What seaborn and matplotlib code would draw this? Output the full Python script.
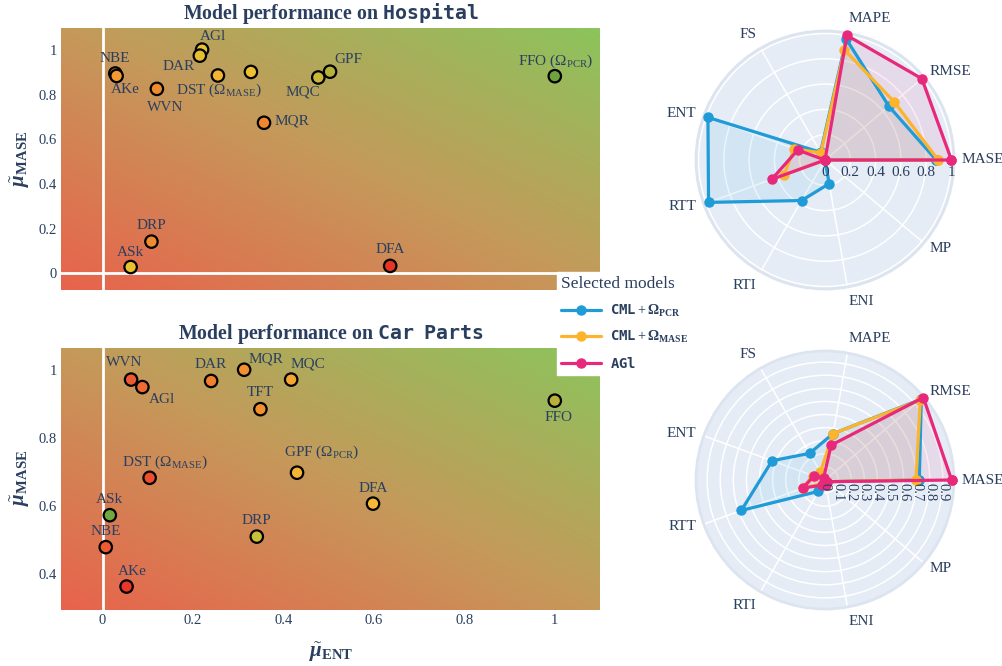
import numpy as np
import pandas as pd
import matplotlib
matplotlib.use("Agg")
import matplotlib.pyplot as plt
import seaborn as sns
from matplotlib.lines import Line2D
from matplotlib.colors import LinearSegmentedColormap

# ---------------- data ----------------
hosp_models = ["NBE", "AKe", "WVN", "AGl", "DAR", "DST", "TFT", "MQC", "GPF", "MQR", "FFO", "DRP", "ASk", "DFA"]
hosp_labels = ["NBE", "AKe", "WVN", "AGl", "DAR", r"DST ($\Omega_{\mathrm{MASE}}$)", "", "MQC", "GPF", "MQR",
               r"FFO ($\Omega_{\mathrm{PCR}}$)", "DRP", "ASk", "DFA"]
hosp_ent = [0.028, 0.031, 0.120, 0.220, 0.215, 0.255, 0.328, 0.477, 0.503, 0.357, 1.000, 0.108, 0.062, 0.636]
hosp_mase = [0.896, 0.885, 0.827, 1.003, 0.976, 0.887, 0.903, 0.878, 0.904, 0.675, 0.884, 0.142, 0.028, 0.033]
hosp_colors = ["#F39A32", "#F39A32", "#F08A2E", "#E9C232", "#E6BE30", "#F2B432", "#EDC030", "#C9B73A",
               "#B3B23A", "#F0862E", "#6FA23E", "#F08C30", "#E9C030", "#E83424"]

car_models = ["WVN", "AGl", "DAR", "MQR", "MQC", "TFT", "FFO", "GPF", "DST", "DFA", "ASk", "DRP", "NBE", "AKe"]
car_labels = ["WVN", "AGl", "DAR", "MQR", "MQC", "TFT", "FFO", r"GPF ($\Omega_{\mathrm{PCR}}$)",
              r"DST ($\Omega_{\mathrm{MASE}}$)", "DFA", "ASk", "DRP", "NBE", "AKe"]
car_ent = [0.063, 0.088, 0.240, 0.313, 0.417, 0.349, 1.000, 0.430, 0.104, 0.598, 0.016, 0.341, 0.007, 0.053]
car_mase = [0.972, 0.950, 0.968, 1.001, 0.972, 0.885, 0.910, 0.698, 0.683, 0.607, 0.573, 0.510, 0.479, 0.363]
car_colors = ["#EE5A30", "#F06A32", "#F07F30", "#F39030", "#F5A532", "#F28F30", "#B8B03A", "#F5B534",
              "#EC4E2E", "#F6B936", "#72A63E", "#C7C038", "#EE5B30", "#E8362A"]

metrics = ["MASE", "RMSE", "MAPE", "FS", "ENT", "RTT", "RTI", "ENI", "MP"]
selected = [r"$\mathtt{CML} + \mathbf{\Omega}_{\mathbf{PCR}}$",
            r"$\mathtt{CML} + \mathbf{\Omega}_{\mathbf{MASE}}$",
            r"$\mathtt{AGl}$"]
hosp_radar_pcr = [0.88, 0.66, 0.97, 0.07, 0.985, 0.98, 0.37, 0.19, 0.0]
hosp_radar_mase = [0.895, 0.715, 0.885, 0.065, 0.26, 0.345, 0.0, 0.0, 0.0]
hosp_radar_agl = [1.0, 1.0, 1.0, 0.0, 0.23, 0.45, 0.0, 0.0, 0.0]
car_radar_pcr = [0.72, 0.96, 0.36, 0.235, 0.43, 0.68, 0.10, 0.02, 0.02]
car_radar_mase = [0.695, 0.95, 0.36, 0.07, 0.10, 0.18, 0.03, 0.02, 0.02]
car_radar_agl = [0.967, 0.98, 0.27, 0.02, 0.09, 0.18, 0.045, 0.035, 0.02]

hosp_rticks = [0, 0.2, 0.4, 0.6, 0.8, 1]
hosp_rticklabels = ["0", "0.2", "0.4", "0.6", "0.8", "1"]
car_rticks = [0, 0.1, 0.2, 0.3, 0.4, 0.5, 0.6, 0.7, 0.8, 0.9]
car_rticklabels = ["0", "0.1", "0.2", "0.3", "0.4", "0.5", "0.6", "0.7", "0.8", "0.9"]

# ---------------- style ----------------
sns.set_style("white")
TXT = "#2a3f5f"
plt.rcParams["font.family"] = ["Liberation Serif", "DejaVu Serif"]
plt.rcParams["mathtext.fontset"] = "custom"
plt.rcParams["mathtext.rm"] = "Liberation Serif"
plt.rcParams["mathtext.it"] = "Liberation Serif:italic:bold"
plt.rcParams["mathtext.bf"] = "Liberation Serif:bold"
plt.rcParams["mathtext.tt"] = "DejaVu Sans Mono:bold"
plt.rcParams["mathtext.fallback"] = "stix"
plt.rcParams["text.color"] = TXT

SEL_COLORS = ["#1f9bd7", "#fbb42c", "#e8287a"]

fig = plt.figure(figsize=(10.03, 6.66), dpi=100)
W, H = 1003, 666


def px_axes(left, top, right, bottom, **kw):
    return fig.add_axes([left / W, 1 - bottom / H, (right - left) / W, (bottom - top) / H], **kw)


grad_cmap = LinearSegmentedColormap.from_list(
    "bg", [(0.0, "#E8634C"), (0.5, "#C5995A"), (1.0, "#8CC45C")])


def scatter_panel(ax, ent, mase, models, labels, colors, offsets, ylim, yticks, title, show_x):
    u, v = np.meshgrid(np.linspace(0, 1, 300), np.linspace(0, 1, 300))
    t = (u + v) / 2
    ax.imshow(grad_cmap(t), extent=[0, 1, 0, 1], transform=ax.transAxes, origin="lower",
              aspect="auto", zorder=0, interpolation="bilinear")
    ax.axvline(0, color="white", lw=2, zorder=1)
    if ylim[0] < 0:
        ax.axhline(0, color="white", lw=2, zorder=1)
    df = pd.DataFrame({"ent": ent, "mase": mase, "model": models})
    sns.scatterplot(data=df, x="ent", y="mase", hue="model", palette=dict(zip(models, colors)),
                    s=80, edgecolor="black", linewidth=1.6, legend=False, ax=ax, zorder=3)
    for x, y, lab, off in zip(ent, mase, labels, offsets):
        if lab:
            ax.annotate(lab, xy=(x, y), xytext=off, textcoords="offset pixels",
                        ha="center", va="center", fontsize=11, color=TXT, zorder=4)
    ax.set_xlim(-0.092, 1.1)
    ax.set_ylim(*ylim)
    ax.set_yticks(yticks)
    ax.set_yticklabels([("%g" % v) for v in yticks])
    ax.set_xticks([0, 0.2, 0.4, 0.6, 0.8, 1])
    if show_x:
        ax.set_xticklabels(["0", "0.2", "0.4", "0.6", "0.8", "1"])
    else:
        ax.set_xticklabels([])
    ax.tick_params(length=0, labelsize=10.5, labelcolor=TXT, pad=3)
    ax.set_xlabel("")
    ax.set_ylabel("")
    for s in ax.spines.values():
        s.set_visible(False)
    ax.text(0.5, 1.0 + 14 / 262, title, transform=ax.transAxes, ha="center", va="center",
            fontsize=14.3, fontweight="bold", color=TXT)


hosp_offsets = [(0, 15), (9, -14), (8, -19), (11, 13), (-21, -11), (1, -15), (0, 0), (-15, -14),
                (18, 12), (28, 2), (1, 15), (0, 16), (0, 15), (0, 16)]
car_offsets = [(-7, 17), (20, -12), (0, 16), (22, 11), (17, 16), (0, 17), (4, -17), (25, 20),
               (15, 15), (0, 15), (0, 16), (0, 16), (0, 16), (6, 15)]

ax1 = px_axes(61, 28, 600, 290)
scatter_panel(ax1, hosp_ent, hosp_mase, hosp_models, hosp_labels, hosp_colors, hosp_offsets,
              (-0.075, 1.1), [0, 0.2, 0.4, 0.6, 0.8, 1], r"Model performance on $\mathtt{Hospital}$", False)
ax2 = px_axes(61, 348, 600, 610)
scatter_panel(ax2, car_ent, car_mase, car_models, car_labels, car_colors, car_offsets,
              (0.294, 1.065), [0.4, 0.6, 0.8, 1], r"Model performance on $\mathtt{Car\ \ Parts}$", True)

fig.text(20 / W, 1 - 159 / H, r"$\tilde{\mu}_{\mathbf{MASE}}$", rotation=90, ha="center", va="center",
         fontsize=15, color=TXT)
fig.text(20 / W, 1 - 478 / H, r"$\tilde{\mu}_{\mathbf{MASE}}$", rotation=90, ha="center", va="center",
         fontsize=15, color=TXT)
fig.text(331 / W, 1 - 652 / H, r"$\tilde{\mu}_{\mathbf{ENT}}$", ha="center", va="center",
         fontsize=15, color=TXT)


def radar(ax, series, rmax, rticks, rticklabels, rotate_labels):
    theta = np.linspace(0, 2 * np.pi, len(metrics), endpoint=False)
    ax.set_facecolor("#E5ECF6")
    ax.set_theta_zero_location("E")
    ax.set_theta_direction(1)
    ax.set_ylim(0, rmax)
    ax.set_xticks(theta)
    ax.set_xticklabels([])
    ax.set_yticks(rticks)
    ax.set_yticklabels([])
    ax.grid(True, color="white", lw=1.1)
    ax.set_axisbelow(True)
    ax.tick_params(length=0)
    ax.spines["polar"].set_color("#dce4f0")
    ax.spines["polar"].set_linewidth(2)
    for vals, c in zip(series, SEL_COLORS):
        th = np.append(theta, theta[0])
        r = np.append(vals, vals[0])
        ax.fill(th, r, color=c, alpha=0.09, zorder=2, lw=0)
        ax.plot(th, r, color=c, lw=2.3, marker="o", ms=6.5, zorder=3, clip_on=False)
    for th, name in zip(theta, metrics):
        cs, sn = np.cos(th), np.sin(th)
        ha = "left" if cs > 0.05 else ("right" if cs < -0.05 else "center")
        va = "bottom" if sn > 0.7 else ("top" if sn < -0.7 else "center")
        ax.annotate(name, xy=(th, rmax), xytext=(8 * cs, 8 * sn), textcoords="offset pixels",
                    ha=ha, va=va, fontsize=11, color=TXT, annotation_clip=False)
    for rv, lab in zip(rticks, rticklabels):
        if rotate_labels:
            ax.annotate(lab, xy=(0, rv), xytext=(0, -3), textcoords="offset pixels", rotation=-90,
                        ha="center", va="top", fontsize=10.5, color=TXT, zorder=5)
        else:
            ax.annotate(lab, xy=(0, rv), xytext=(0, -6), textcoords="offset pixels",
                        ha="center", va="top", fontsize=11, color=TXT, zorder=5)


rax1 = px_axes(696, 31, 954, 289, projection="polar")
radar(rax1, [hosp_radar_pcr, hosp_radar_mase, hosp_radar_agl], 1.02, hosp_rticks, hosp_rticklabels, False)
rax2 = px_axes(696, 351, 954, 609, projection="polar")
radar(rax2, [car_radar_pcr, car_radar_mase, car_radar_agl], 0.985, car_rticks, car_rticklabels, True)

handles = [Line2D([0], [0], color=c, lw=2.3, marker="o", ms=6.5) for c in SEL_COLORS]
leg = fig.legend(handles, selected, title="Selected models", loc="upper left",
                 bbox_to_anchor=(557 / W, 1 - 272 / H), frameon=True, fancybox=False,
                 facecolor="white", edgecolor="white", framealpha=1, fontsize=10, title_fontsize=12.5,
                 handlelength=2.9, handletextpad=0.6, labelspacing=0.75, borderpad=0.3,
                 borderaxespad=0, alignment="left")
for t in leg.get_texts():
    t.set_color(TXT)
leg.get_title().set_color(TXT)

fig.savefig("out.png", dpi=100, facecolor="white")
